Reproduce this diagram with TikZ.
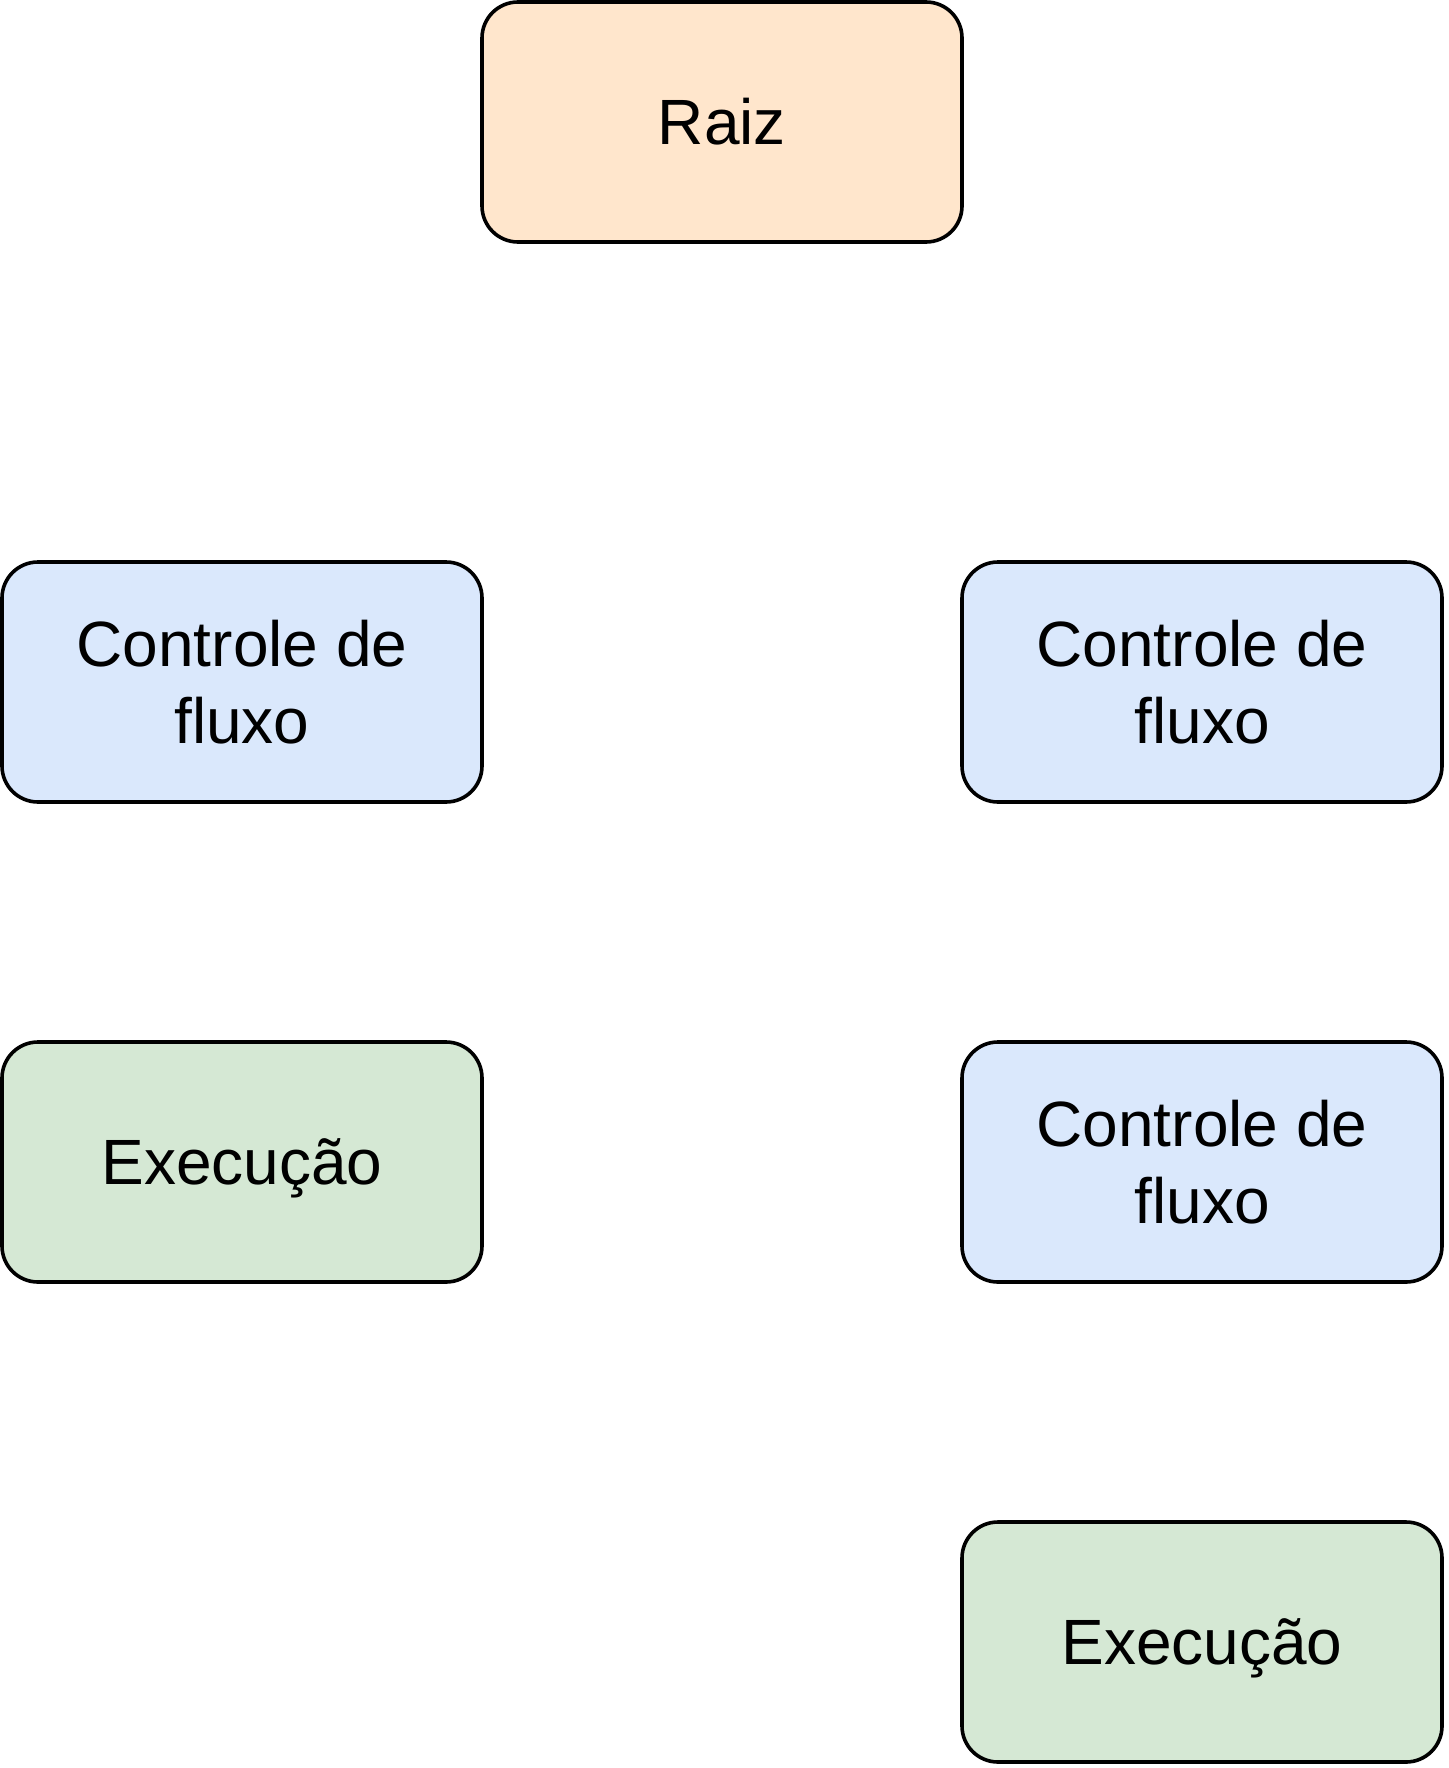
\documentclass[tikz,border=0pt]{standalone}
\usepackage{fontspec}
\setmainfont{Liberation Sans}
\definecolor{rootfill}{HTML}{FFE6CC}
\definecolor{ctrlfill}{HTML}{DAE8FC}
\definecolor{execfill}{HTML}{D5E8D4}
\tikzset{
  boxnode/.style={draw=black, line width=3.6pt, rectangle, rounded corners=36pt,
    minimum width=480pt, minimum height=240pt, inner sep=0pt, align=center,
    font=\fontsize{64}{76.8}\selectfont},
  rootbox/.style={boxnode, fill=rootfill},
  ctrlbox/.style={boxnode, fill=ctrlfill},
  execbox/.style={boxnode, fill=execfill}
}
\begin{document}
\begin{tikzpicture}[x=1pt,y=-1pt]
\useasboundingbox (0,0) rectangle (1448,1768);
\node[rootbox] (raiz) at (722,122) {Raiz};
\node[ctrlbox] (cl) at (242,682) {Controle de\\fluxo};
\node[ctrlbox] (cr) at (1202,682) {Controle de\\fluxo};
\node[execbox] (el) at (242,1162) {\vphantom{Raiz}\smash{Execução}};
\node[ctrlbox] (cr2) at (1202,1162) {Controle de\\fluxo};
\node[execbox] (er) at (1202,1642) {\vphantom{Raiz}\smash{Execução}};
\end{tikzpicture}
\end{document}
